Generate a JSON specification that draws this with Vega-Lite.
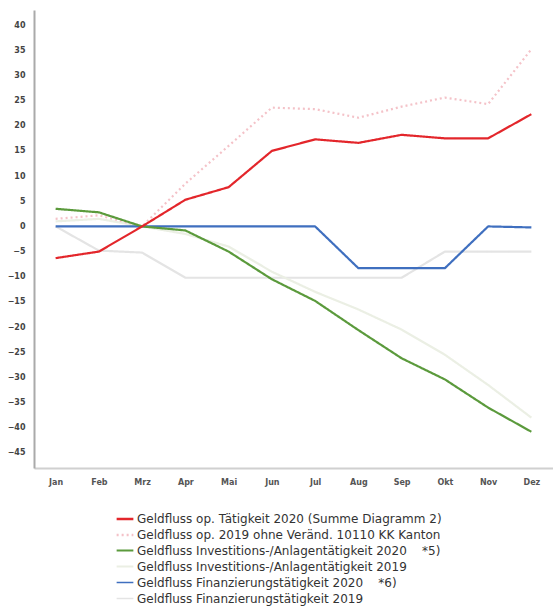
{
  "$schema": "https://vega.github.io/schema/vega-lite/v6.json",
  "width": 519,
  "height": 458,
  "autosize": {"type": "none"},
  "padding": {"left": 34, "top": 10, "right": 0, "bottom": 141},
  "background": "white",
  "config": {"view": {"stroke": null}, "font": "DejaVu Sans"},
  "data": {"values": [
    {"m": "Jan", "s": "Geldfluss Finanzierungstätigkeit 2019", "v": 0},
    {"m": "Feb", "s": "Geldfluss Finanzierungstätigkeit 2019", "v": -4.8},
    {"m": "Mrz", "s": "Geldfluss Finanzierungstätigkeit 2019", "v": -5.2},
    {"m": "Apr", "s": "Geldfluss Finanzierungstätigkeit 2019", "v": -10.2},
    {"m": "Mai", "s": "Geldfluss Finanzierungstätigkeit 2019", "v": -10.2},
    {"m": "Jun", "s": "Geldfluss Finanzierungstätigkeit 2019", "v": -10.2},
    {"m": "Jul", "s": "Geldfluss Finanzierungstätigkeit 2019", "v": -10.2},
    {"m": "Aug", "s": "Geldfluss Finanzierungstätigkeit 2019", "v": -10.2},
    {"m": "Sep", "s": "Geldfluss Finanzierungstätigkeit 2019", "v": -10.2},
    {"m": "Okt", "s": "Geldfluss Finanzierungstätigkeit 2019", "v": -5},
    {"m": "Nov", "s": "Geldfluss Finanzierungstätigkeit 2019", "v": -5},
    {"m": "Dez", "s": "Geldfluss Finanzierungstätigkeit 2019", "v": -5},
    {"m": "Jan", "s": "Geldfluss Investitions-/Anlagentätigkeit 2019", "v": 1},
    {"m": "Feb", "s": "Geldfluss Investitions-/Anlagentätigkeit 2019", "v": 1.5},
    {"m": "Mrz", "s": "Geldfluss Investitions-/Anlagentätigkeit 2019", "v": 0},
    {"m": "Apr", "s": "Geldfluss Investitions-/Anlagentätigkeit 2019", "v": -1.5},
    {"m": "Mai", "s": "Geldfluss Investitions-/Anlagentätigkeit 2019", "v": -4},
    {"m": "Jun", "s": "Geldfluss Investitions-/Anlagentätigkeit 2019", "v": -9},
    {"m": "Jul", "s": "Geldfluss Investitions-/Anlagentätigkeit 2019", "v": -13},
    {"m": "Aug", "s": "Geldfluss Investitions-/Anlagentätigkeit 2019", "v": -16.5},
    {"m": "Sep", "s": "Geldfluss Investitions-/Anlagentätigkeit 2019", "v": -20.5},
    {"m": "Okt", "s": "Geldfluss Investitions-/Anlagentätigkeit 2019", "v": -25.5},
    {"m": "Nov", "s": "Geldfluss Investitions-/Anlagentätigkeit 2019", "v": -31.5},
    {"m": "Dez", "s": "Geldfluss Investitions-/Anlagentätigkeit 2019", "v": -38},
    {"m": "Jan", "s": "Geldfluss op. 2019 ohne Veränd. 10110 KK Kanton", "v": 1.5},
    {"m": "Feb", "s": "Geldfluss op. 2019 ohne Veränd. 10110 KK Kanton", "v": 2.2},
    {"m": "Mrz", "s": "Geldfluss op. 2019 ohne Veränd. 10110 KK Kanton", "v": 0},
    {"m": "Apr", "s": "Geldfluss op. 2019 ohne Veränd. 10110 KK Kanton", "v": 8.5},
    {"m": "Mai", "s": "Geldfluss op. 2019 ohne Veränd. 10110 KK Kanton", "v": 16},
    {"m": "Jun", "s": "Geldfluss op. 2019 ohne Veränd. 10110 KK Kanton", "v": 23.6},
    {"m": "Jul", "s": "Geldfluss op. 2019 ohne Veränd. 10110 KK Kanton", "v": 23.3},
    {"m": "Aug", "s": "Geldfluss op. 2019 ohne Veränd. 10110 KK Kanton", "v": 21.6},
    {"m": "Sep", "s": "Geldfluss op. 2019 ohne Veränd. 10110 KK Kanton", "v": 23.8},
    {"m": "Okt", "s": "Geldfluss op. 2019 ohne Veränd. 10110 KK Kanton", "v": 25.6},
    {"m": "Nov", "s": "Geldfluss op. 2019 ohne Veränd. 10110 KK Kanton", "v": 24.3},
    {"m": "Dez", "s": "Geldfluss op. 2019 ohne Veränd. 10110 KK Kanton", "v": 35.2},
    {"m": "Jan", "s": "Geldfluss Finanzierungstätigkeit 2020\u00a0\u00a0\u00a0\u00a0*6)", "v": 0},
    {"m": "Feb", "s": "Geldfluss Finanzierungstätigkeit 2020\u00a0\u00a0\u00a0\u00a0*6)", "v": 0},
    {"m": "Mrz", "s": "Geldfluss Finanzierungstätigkeit 2020\u00a0\u00a0\u00a0\u00a0*6)", "v": 0},
    {"m": "Apr", "s": "Geldfluss Finanzierungstätigkeit 2020\u00a0\u00a0\u00a0\u00a0*6)", "v": 0},
    {"m": "Mai", "s": "Geldfluss Finanzierungstätigkeit 2020\u00a0\u00a0\u00a0\u00a0*6)", "v": 0},
    {"m": "Jun", "s": "Geldfluss Finanzierungstätigkeit 2020\u00a0\u00a0\u00a0\u00a0*6)", "v": 0},
    {"m": "Jul", "s": "Geldfluss Finanzierungstätigkeit 2020\u00a0\u00a0\u00a0\u00a0*6)", "v": 0},
    {"m": "Aug", "s": "Geldfluss Finanzierungstätigkeit 2020\u00a0\u00a0\u00a0\u00a0*6)", "v": -8.3},
    {"m": "Sep", "s": "Geldfluss Finanzierungstätigkeit 2020\u00a0\u00a0\u00a0\u00a0*6)", "v": -8.3},
    {"m": "Okt", "s": "Geldfluss Finanzierungstätigkeit 2020\u00a0\u00a0\u00a0\u00a0*6)", "v": -8.3},
    {"m": "Nov", "s": "Geldfluss Finanzierungstätigkeit 2020\u00a0\u00a0\u00a0\u00a0*6)", "v": 0},
    {"m": "Dez", "s": "Geldfluss Finanzierungstätigkeit 2020\u00a0\u00a0\u00a0\u00a0*6)", "v": -0.2},
    {"m": "Jan", "s": "Geldfluss Investitions-/Anlagentätigkeit 2020\u00a0\u00a0\u00a0\u00a0*5)", "v": 3.5},
    {"m": "Feb", "s": "Geldfluss Investitions-/Anlagentätigkeit 2020\u00a0\u00a0\u00a0\u00a0*5)", "v": 2.8},
    {"m": "Mrz", "s": "Geldfluss Investitions-/Anlagentätigkeit 2020\u00a0\u00a0\u00a0\u00a0*5)", "v": 0},
    {"m": "Apr", "s": "Geldfluss Investitions-/Anlagentätigkeit 2020\u00a0\u00a0\u00a0\u00a0*5)", "v": -0.8},
    {"m": "Mai", "s": "Geldfluss Investitions-/Anlagentätigkeit 2020\u00a0\u00a0\u00a0\u00a0*5)", "v": -5},
    {"m": "Jun", "s": "Geldfluss Investitions-/Anlagentätigkeit 2020\u00a0\u00a0\u00a0\u00a0*5)", "v": -10.5},
    {"m": "Jul", "s": "Geldfluss Investitions-/Anlagentätigkeit 2020\u00a0\u00a0\u00a0\u00a0*5)", "v": -14.8},
    {"m": "Aug", "s": "Geldfluss Investitions-/Anlagentätigkeit 2020\u00a0\u00a0\u00a0\u00a0*5)", "v": -20.6},
    {"m": "Sep", "s": "Geldfluss Investitions-/Anlagentätigkeit 2020\u00a0\u00a0\u00a0\u00a0*5)", "v": -26.2},
    {"m": "Okt", "s": "Geldfluss Investitions-/Anlagentätigkeit 2020\u00a0\u00a0\u00a0\u00a0*5)", "v": -30.4},
    {"m": "Nov", "s": "Geldfluss Investitions-/Anlagentätigkeit 2020\u00a0\u00a0\u00a0\u00a0*5)", "v": -36},
    {"m": "Dez", "s": "Geldfluss Investitions-/Anlagentätigkeit 2020\u00a0\u00a0\u00a0\u00a0*5)", "v": -40.8},
    {"m": "Jan", "s": "Geldfluss op. Tätigkeit 2020 (Summe Diagramm 2)", "v": -6.3},
    {"m": "Feb", "s": "Geldfluss op. Tätigkeit 2020 (Summe Diagramm 2)", "v": -5},
    {"m": "Mrz", "s": "Geldfluss op. Tätigkeit 2020 (Summe Diagramm 2)", "v": 0},
    {"m": "Apr", "s": "Geldfluss op. Tätigkeit 2020 (Summe Diagramm 2)", "v": 5.3},
    {"m": "Mai", "s": "Geldfluss op. Tätigkeit 2020 (Summe Diagramm 2)", "v": 7.8},
    {"m": "Jun", "s": "Geldfluss op. Tätigkeit 2020 (Summe Diagramm 2)", "v": 15},
    {"m": "Jul", "s": "Geldfluss op. Tätigkeit 2020 (Summe Diagramm 2)", "v": 17.3},
    {"m": "Aug", "s": "Geldfluss op. Tätigkeit 2020 (Summe Diagramm 2)", "v": 16.6},
    {"m": "Sep", "s": "Geldfluss op. Tätigkeit 2020 (Summe Diagramm 2)", "v": 18.2},
    {"m": "Okt", "s": "Geldfluss op. Tätigkeit 2020 (Summe Diagramm 2)", "v": 17.5},
    {"m": "Nov", "s": "Geldfluss op. Tätigkeit 2020 (Summe Diagramm 2)", "v": 17.5},
    {"m": "Dez", "s": "Geldfluss op. Tätigkeit 2020 (Summe Diagramm 2)", "v": 22.3}
  ]},
  "mark": {"type": "line", "strokeWidth": 2.2, "strokeJoin": "round"},
  "encoding": {
    "x": {
      "field": "m", "type": "ordinal",
      "sort": ["Jan", "Feb", "Mrz", "Apr", "Mai", "Jun", "Jul", "Aug", "Sep", "Okt", "Nov", "Dez"],
      "scale": {"type": "point", "padding": 0.5},
      "axis": {"title": null, "labelAngle": 0, "labelFontSize": 8, "labelFontWeight": "bold", "labelColor": "#555", "labelPadding": 10, "ticks": false, "grid": false, "domainColor": "#d0d0d0", "domainWidth": 2}
    },
    "y": {
      "field": "v", "type": "quantitative",
      "scale": {"domain": [-48, 43], "nice": false, "zero": false},
      "axis": {"title": null, "values": [-45, -40, -35, -30, -25, -20, -15, -10, -5, 0, 5, 10, 15, 20, 25, 30, 35, 40], "labelFontSize": 8, "labelFontWeight": "bold", "labelColor": "#444", "labelPadding": 9, "ticks": false, "grid": false, "domainColor": "#aaaaaa", "domainWidth": 2}
    },
    "color": {
      "field": "s", "type": "nominal",
      "scale": {
        "domain": ["Geldfluss op. Tätigkeit 2020 (Summe Diagramm 2)", "Geldfluss op. 2019 ohne Veränd. 10110 KK Kanton", "Geldfluss Investitions-/Anlagentätigkeit 2020\u00a0\u00a0\u00a0\u00a0*5)", "Geldfluss Investitions-/Anlagentätigkeit 2019", "Geldfluss Finanzierungstätigkeit 2020\u00a0\u00a0\u00a0\u00a0*6)", "Geldfluss Finanzierungstätigkeit 2019"],
        "range": ["#e3262b", "#f4c2c8", "#5b9a3c", "#ebefe4", "#3f6fbf", "#e4e4e4"]
      },
      "legend": {
        "title": null, "orient": "none", "legendX": 81, "legendY": 499,
        "symbolType": "stroke", "symbolStrokeWidth": 1.5, "symbolSize": 280,
        "labelFontSize": 12, "labelColor": "#333", "labelFont": "DejaVu Sans",
        "rowPadding": 0, "labelLimit": 420, "labelOffset": 2
      }
    },
    "strokeDash": {
      "field": "s", "type": "nominal",
      "scale": {
        "domain": ["Geldfluss op. Tätigkeit 2020 (Summe Diagramm 2)", "Geldfluss op. 2019 ohne Veränd. 10110 KK Kanton", "Geldfluss Investitions-/Anlagentätigkeit 2020\u00a0\u00a0\u00a0\u00a0*5)", "Geldfluss Investitions-/Anlagentätigkeit 2019", "Geldfluss Finanzierungstätigkeit 2020\u00a0\u00a0\u00a0\u00a0*6)", "Geldfluss Finanzierungstätigkeit 2019"],
        "range": [[1, 0], [2, 3], [1, 0], [1, 0], [1, 0], [1, 0]]
      },
      "legend": null
    },
    "strokeWidth": {
      "field": "s", "type": "nominal",
      "scale": {
        "domain": ["Geldfluss op. Tätigkeit 2020 (Summe Diagramm 2)", "Geldfluss op. 2019 ohne Veränd. 10110 KK Kanton", "Geldfluss Investitions-/Anlagentätigkeit 2020\u00a0\u00a0\u00a0\u00a0*5)", "Geldfluss Investitions-/Anlagentätigkeit 2019", "Geldfluss Finanzierungstätigkeit 2020\u00a0\u00a0\u00a0\u00a0*6)", "Geldfluss Finanzierungstätigkeit 2019"],
        "range": [2.5, 1.5, 2, 1.5, 2.5, 1.5]
      },
      "legend": null
    }
  }
}
